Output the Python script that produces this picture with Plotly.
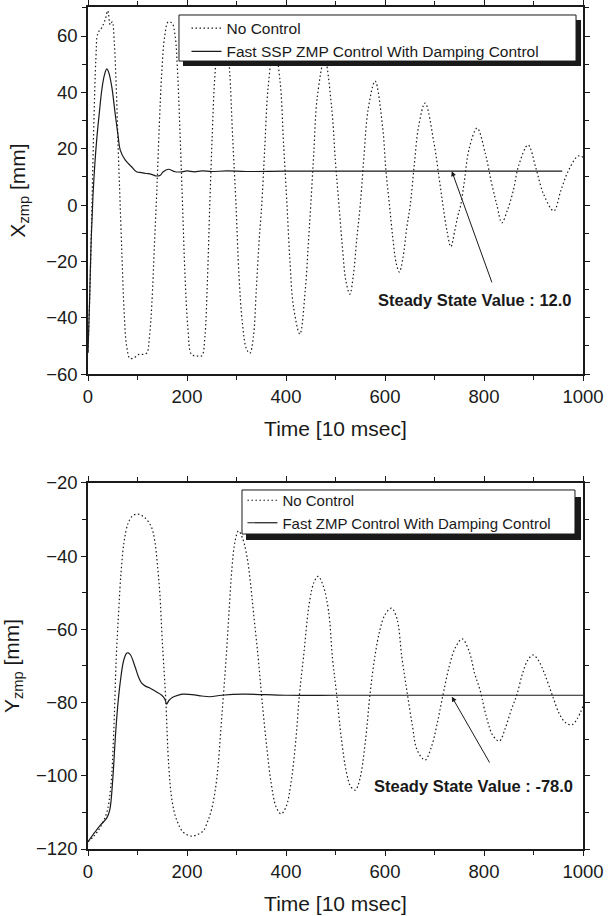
import plotly.graph_objects as go

# ---------------- data ----------------
# Top panel: X_zmp, no control (dotted)
t_x_nc = [0, 4, 8, 12, 16, 20, 28, 35, 40, 45, 49, 53, 57, 61, 65, 69, 73, 78, 85, 95, 103, 112, 119,
          124, 129, 134, 139, 144, 149, 155, 162, 170, 176, 181, 186, 191, 196, 202, 209, 220, 230,
          236, 241, 246, 251, 256, 263, 272, 280, 286, 292, 299, 305, 312, 320, 327, 334, 340, 346,
          351, 357, 364, 376, 388, 395, 402, 408, 415, 428, 439, 445, 450, 456, 463, 478, 492, 500,
          507, 514, 521, 529, 536, 543, 550, 557, 566, 580, 595, 602, 609, 616, 623, 629, 636, 644,
          651, 659, 668, 681, 699, 709, 717, 725, 733, 741, 747, 753, 760, 770, 786, 803, 815, 826,
          836, 847, 859, 870, 889, 905, 920, 941, 955, 970, 990, 1000]
x_nc = [-52, -30, 0, 30, 52, 61, 63, 66, 69, 64, 65, 58, 42, 20, 0, -20, -38, -50, -54.5, -54, -53,
        -53, -52.5, -47, -35, -15, 5, 28, 47, 60, 65, 64.5, 60, 47, 25, 0, -25, -44, -53, -53.6, -53.5,
        -47, -28, 0, 25, 45, 58, 63, 60, 48, 25, 0, -25, -42, -51, -52.6, -47, -30, -12,
        0, 20, 42, 57, 44, 22, 0, -20, -36, -45.8, -30, -14, 0, 18, 38, 52, 35, 15,
        0, -15, -27, -31.6, -25, -12, 0, 16, 34, 44, 28, 12, 0, -12, -21, -23.8, -19, -8,
        0, 14, 28, 36.2, 22, 10, 0, -9, -14.8, -9, -4, 0, 8, 20, 27.3, 18, 8, 0,
        -6.3, -2, 5, 14, 21.3, 13, 4, -2.1, 5, 12, 17.4, 17]

# Top panel: X_zmp, fast SSP ZMP control with damping control (solid)
t_x_ctrl = [0, 3, 6, 10, 14, 18, 23, 28, 33, 38, 42, 48, 54, 61, 65, 75, 88, 98, 108, 118, 128, 139,
            146, 152, 162, 176, 190, 200, 215, 230, 250, 280, 320, 400, 500, 600, 700, 800, 900, 958]
x_ctrl = [-52.5, -35, -15, 3, 15, 24, 33, 41, 46, 48.3, 47, 42, 33.7, 24.2, 19.6, 16, 13.6, 11.8,
          11.5, 11.2, 10.9, 10.3, 10.6, 11.8, 12.7, 11.8, 11.8, 12.1, 11.8, 12.1, 11.9, 12.1, 11.9,
          12, 12, 12, 12, 12, 12, 12]

# Bottom panel: Y_zmp, no control (dotted)
t_y_nc = [0, 11, 25, 38, 46, 52, 57, 62, 67, 73, 81, 90, 101, 115, 128, 135, 140, 145, 150, 157, 163,
          170, 179, 193, 210, 222, 233, 243, 250, 257, 263, 268, 273, 279, 285, 291, 297, 304, 312,
          321, 328, 334, 344, 352, 361, 370, 380, 390, 400, 410, 420, 427, 435, 448, 457, 465, 475,
          486, 494, 502, 512, 522, 531, 540, 549, 560, 570, 580, 590, 600, 613, 624, 634, 644, 655,
          665, 681, 694, 705, 717, 730, 742, 756, 770, 781, 792, 805, 818, 831, 843, 855, 866, 878,
          888, 899, 910, 922, 938, 952, 965, 977, 988, 1000]
y_nc = [-118, -116.6, -114, -110, -103, -88, -68, -55, -44, -36, -31, -29, -28.5, -29.5, -32, -36,
        -42, -50, -63, -79, -97, -107, -112, -115.5, -116.5, -116, -115, -112, -109, -104, -97, -88,
        -79, -68, -55, -43, -36, -33.1, -35, -40, -47, -55, -68, -80, -92, -102, -108.5, -110.4,
        -108.5, -102, -90, -78, -68, -52, -47, -45.5, -48, -55, -68, -77.4, -90, -99, -103, -103.9,
        -101, -91, -77.4, -67, -60, -56, -54.2, -57, -67.5, -76.6, -86, -93, -95.7, -92, -86, -78,
        -70, -65, -62.6, -66, -72, -76.6, -84, -89, -90.5, -87, -82, -78, -72, -68.5, -67, -68.5, -72,
        -78, -83, -85.5, -86.1, -84.5, -81]

# Bottom panel: Y_zmp, fast ZMP control with damping control (solid)
t_y_ctrl = [0, 8, 14, 25, 38, 44, 50, 55, 60, 65, 72, 78, 81, 86, 95, 102, 108, 116, 125, 137, 149,
            155, 159, 163, 172, 182, 192, 210, 230, 246, 270, 314, 400, 500, 600, 700, 800, 900, 1000]
y_ctrl = [-118, -116.5, -115.4, -113.5, -111.5, -109.3, -101, -90, -81, -74.6, -68.5, -66.5, -66.4,
          -67, -70.2, -73, -74.6, -75.5, -76, -77, -78, -79, -80.4, -79.5, -78.5, -78, -77.7, -77.8,
          -78.2, -78.4, -78, -77.7, -78, -78, -78, -78, -78, -78, -78]

x_ticks_vals = [0, 200, 400, 600, 800, 1000]
top_y_ticks = [-60, -40, -20, 0, 20, 40, 60]
bot_y_ticks = [-120, -100, -80, -60, -40, -20]

top_names = ["No Control", "Fast SSP ZMP Control With Damping Control"]
bot_names = ["No Control", "Fast ZMP Control With Damping Control"]
top_note = "Steady State Value : 12.0"
bot_note = "Steady State Value : -78.0"
x_title = "Time [10 msec]"
top_y_title = "X<sub>zmp</sub> [mm]"
bot_y_title = "Y<sub>zmp</sub> [mm]"

# ---------------- figure ----------------
INK = "#1a1a1a"
FONT = "Liberation Sans, Arial, sans-serif"
DOT = "1.5px,2.5px"

fig = go.Figure()
fig.add_trace(go.Scatter(x=t_x_nc, y=x_nc, mode="lines", name=top_names[0], line_shape="spline",
                         line=dict(color=INK, width=1.2, dash=DOT), xaxis="x", yaxis="y", legend="legend"))
fig.add_trace(go.Scatter(x=t_x_ctrl, y=x_ctrl, mode="lines", name=top_names[1], line_shape="spline",
                         line=dict(color=INK, width=1.2), xaxis="x", yaxis="y", legend="legend"))
fig.add_trace(go.Scatter(x=t_y_nc, y=y_nc, mode="lines", name=bot_names[0], line_shape="spline",
                         line=dict(color=INK, width=1.2, dash=DOT), xaxis="x2", yaxis="y2", legend="legend2"))
fig.add_trace(go.Scatter(x=t_y_ctrl, y=y_ctrl, mode="lines", name=bot_names[1], line_shape="spline",
                         line=dict(color=INK, width=1.2), xaxis="x2", yaxis="y2", legend="legend2"))

axis_common = dict(showline=True, linecolor=INK, linewidth=1.5, mirror="allticks", ticks="outside",
                   ticklen=5, tickwidth=1.2, tickcolor=INK, showgrid=False, zeroline=False,
                   automargin=False,
                   tickfont=dict(family=FONT, size=18.5, color=INK),
                   title_font=dict(family=FONT, size=21, color=INK))

TOP_DOM = [0.5641, 1.0]
BOT_DOM = [0.0, 0.4347]

fig.update_layout(
    width=612, height=916,
    margin=dict(l=88, r=29, t=7, b=67, autoexpand=False),
    paper_bgcolor="white", plot_bgcolor="white",
    font=dict(family=FONT, color=INK),
    xaxis=dict(domain=[0, 1], anchor="y", range=[0, 1000], tickvals=x_ticks_vals,
               minor=dict(dtick=100, ticks="outside", ticklen=4, tickcolor=INK, tickwidth=1),
               title=dict(text=x_title), **axis_common),
    yaxis=dict(domain=TOP_DOM, anchor="x", range=[-60, 70.3], tickvals=top_y_ticks,
               minor=dict(tickvals=[-50, -30, -10, 10, 30, 50, 70], ticks="outside", ticklen=4,
                          tickcolor=INK, tickwidth=1),
               title=dict(text=top_y_title), **axis_common),
    xaxis2=dict(domain=[0, 1], anchor="y2", range=[0, 1000], tickvals=x_ticks_vals,
                minor=dict(dtick=100, ticks="outside", ticklen=4, tickcolor=INK, tickwidth=1),
                title=dict(text=x_title), **axis_common),
    yaxis2=dict(domain=BOT_DOM, anchor="x2", range=[-120, -20], tickvals=bot_y_ticks,
                minor=dict(dtick=10, ticks="outside", ticklen=4, tickcolor=INK, tickwidth=1),
                title=dict(text=bot_y_title), **axis_common),
    legend=dict(x=0.199, y=0.9945, xanchor="left", yanchor="top", bgcolor="rgba(0,0,0,0)",
                borderwidth=0, font=dict(family=FONT, size=15.5, color=INK), tracegroupgap=0),
    legend2=dict(x=0.312, y=0.4335, xanchor="left", yanchor="top", bgcolor="rgba(0,0,0,0)",
                 borderwidth=0, font=dict(family=FONT, size=15, color=INK), tracegroupgap=0),
    showlegend=True,
)

# legend frames with drop shadows
for (x0, y0, x1, y1) in [(0.1919, 0.9299, 0.9960, 0.9846), (0.3192, 0.3670, 0.9960, 0.4181)]:
    fig.add_shape(type="rect", xref="paper", yref="paper", x0=x0, y0=y0, x1=x1, y1=y1,
                  fillcolor=INK, line=dict(width=0), layer="above")
for (x0, y0, x1, y1) in [(0.1838, 0.9358, 0.9859, 0.9905), (0.3111, 0.3741, 0.9838, 0.4264)]:
    fig.add_shape(type="rect", xref="paper", yref="paper", x0=x0, y0=y0, x1=x1, y1=y1,
                  fillcolor="white", line=dict(width=1, color=INK), layer="above")

# steady-state annotations
fig.add_annotation(x=735, y=12, xref="x", yref="y", ax=817, ay=-28, axref="x", ayref="y",
                   showarrow=True, arrowhead=2, arrowsize=1, arrowwidth=1, arrowcolor=INK, text="")
fig.add_annotation(x=782, y=-33.7, xref="x", yref="y", text="<b>" + top_note + "</b>",
                   showarrow=False, font=dict(family=FONT, size=16.5, color=INK))
fig.add_annotation(x=735, y=-78.4, xref="x2", yref="y2", ax=813, ay=-96.8, axref="x2", ayref="y2",
                   showarrow=True, arrowhead=2, arrowsize=1, arrowwidth=1, arrowcolor=INK, text="")
fig.add_annotation(x=779, y=-102.7, xref="x2", yref="y2", text="<b>" + bot_note + "</b>",
                   showarrow=False, font=dict(family=FONT, size=16.5, color=INK))

fig.write_html("out.html")
